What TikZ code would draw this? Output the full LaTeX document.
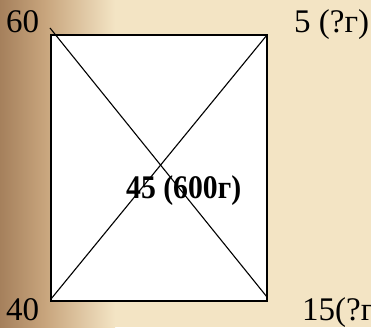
\documentclass[tikz,border=0pt]{standalone}
\usepackage{fontspec}
\usepackage{graphicx}
\setmainfont{Liberation Serif}
\definecolor{bgdark}{RGB}{165,128,92}
\definecolor{bgmid}{RGB}{200,165,125}
\definecolor{bglight}{RGB}{243,228,196}
\tikzset{
  lbl/.style={anchor=base west, inner sep=0pt, font=\fontsize{33}{38}\selectfont},
  boldlbl/.style={anchor=base west, inner sep=0pt, font=\fontsize{33}{38}\selectfont\bfseries},
  edge/.style={draw=black, line width=1.4pt},
  diag/.style={draw=black, line width=1.1pt},
}
\begin{document}
\begin{tikzpicture}[x=1pt,y=1pt]
\useasboundingbox (0,0) rectangle (371,327);
\clip (0,0) rectangle (371,327);
% background
\fill[bglight] (0,0) rectangle (371,327);
\shade[left color=bgdark, right color=bgmid] (0,0) rectangle (45,327);
\shade[left color=bgmid, right color=bglight] (45,0) rectangle (115,327);
% rectangle
\coordinate (tl) at (51,292);
\coordinate (tr) at (267,292);
\coordinate (bl) at (51,26);
\coordinate (br) at (267,26);
\coordinate (d1s) at (50,299);
\coordinate (d1e) at (267,30);
\coordinate (d2s) at (51,28);
\coordinate (d2e) at (267,292);
\filldraw[fill=white, edge] (tl) -- (tr) -- (br) -- (bl) -- cycle;
\draw[diag] (d1s) -- (d1e);
\draw[diag] (d2s) -- (d2e);
% labels
\node[lbl] (l60) at (6,294) {60};
\node[lbl] (l5) at (294,294) {5 (?г)};
\node[lbl] (l40) at (6,7) {40};
\node[lbl] (l15) at (302,7) {15(?г)};
\node[boldlbl] (l45) at (126,129) {\scalebox{0.9}[1]{45 (600г)}};
\end{tikzpicture}
\end{document}
